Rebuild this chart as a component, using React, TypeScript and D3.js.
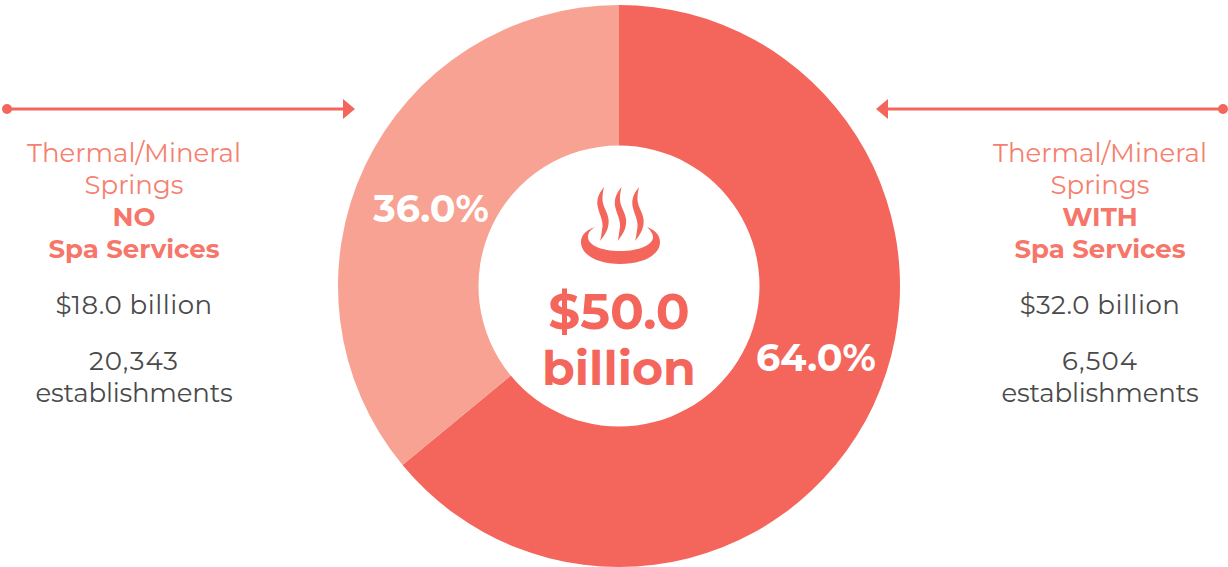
import React from "react";
import * as d3 from "d3";

const segmentLabels = ["With spa", "No spa"];
const segmentValues = [64.0, 36.0];
const segmentPercents = ["64.0%", "36.0%"];
const segmentColors = ["#f4665c", "#f8a294"];
const centerLines = ["$50.0", "billion"];
const leftTitle = ["Thermal/Mineral", "Springs"];
const leftBold = ["NO", "Spa Services"];
const leftRevenue = "$18.0 billion";
const leftEstablishments = ["20,343", "establishments"];
const rightTitle = ["Thermal/Mineral", "Springs"];
const rightBold = ["WITH", "Spa Services"];
const rightRevenue = "$32.0 billion";
const rightEstablishments = ["6,504", "establishments"];

const FONT = "Montserrat, Lato, 'Open Sans', sans-serif";
const CORAL = "#f4665c";
const BOLD = "#f7766a";
const TITLE = "#f6806f";
const DARK = "#4a4a4a";

function TextBlock({ x, title, bold, revenue, est }: any) {
  const t = (s: string, y: number, fill: string, w = 400, ls = 0) => (
    <text key={s + y} x={x} y={y} textAnchor="middle" fill={fill} fontWeight={w} fontSize={26} letterSpacing={ls} fontFamily={FONT}>{s}</text>
  );
  return (
    <g>
      {t(title[0], 162, TITLE)}
      {t(title[1], 194, TITLE)}
      {t(bold[0], 226, BOLD, 700)}
      {t(bold[1], 258, BOLD, 700)}
      {t(revenue, 314, DARK, 400, 0.5)}
      {t(est[0], 370, DARK, 400, 1.1)}
      {t(est[1], 402, DARK, 400, -0.2)}
    </g>
  );
}

const steam = "M604 187 C 598 194 596 201 598 208 C 600 216 604 222 602 230 C 601.5 234 601 238 600 241 C 606 234 609.5 227 608.5 219 C 607.5 212 603 207 602.5 200 C 602.3 196 603 191 604 187 Z";
const bowl = "M595 227 C 586 230 581 235 581 242 C 581 255 598 264 620 264 C 643 264 660 255 660 242 C 660 235 655 230 647 227 C 651 231 653 234 653 237 C 653 245 639 251 620 251 C 601 251 588 245 588 237 C 588 233 590 230 595 227 Z";

export default function App() {
  const cx = 619, cy = 286, R = 281, r = 140.5;
  const pie = d3.pie<number>().sort(null).startAngle(0).endAngle(2 * Math.PI);
  const arc = d3.arc<d3.PieArcDatum<number>>().innerRadius(r).outerRadius(R);
  const arcs = pie(segmentValues);
  const labelArc = d3.arc<d3.PieArcDatum<number>>().innerRadius(211).outerRadius(211);
  const labelShift = [[6, -19], [3, 12]];
  return (
    <svg width={1228} height={567} style={{ position: "fixed", left: 0, top: 0, background: "#fff" }}>
      <g transform={`translate(${cx},${cy})`}>
        {arcs.map((a, i) => <path key={segmentLabels[i]} d={arc(a)!} fill={segmentColors[i]} />)}
        {arcs.map((a, i) => {
          const [lx, ly] = labelArc.centroid(a);
          return <text key={i} x={lx + labelShift[i][0]} y={ly + labelShift[i][1]} dy="0.36em" textAnchor="middle" fill="#fff" fontWeight={700} fontSize={38} fontFamily={FONT}>{segmentPercents[i]}</text>;
        })}
      </g>
      <g fill={CORAL}>
        <path d={steam} />
        <path d={steam} transform="translate(17.5,0)" />
        <path d={steam} transform="translate(35,0)" />
        <path d={bowl} />
      </g>
      {centerLines.map((s, i) => (
        <text key={s} x={619} y={329 + i * 56} textAnchor="middle" fill={CORAL} fontWeight={700} fontSize={i === 0 ? 50 : 47.5} fontFamily={FONT}>{s}</text>
      ))}
      <g stroke={CORAL} strokeWidth={3} fill={CORAL}>
        <line x1={7} y1={109} x2={350} y2={109} />
        <circle cx={7} cy={109} r={5} stroke="none" />
        <path d="M343 99 L355 109 L343 119 Z" stroke="none" />
        <line x1={880} y1={109} x2={1223} y2={109} />
        <circle cx={1223} cy={109} r={5} stroke="none" />
        <path d="M888 99 L876 109 L888 119 Z" stroke="none" />
      </g>
      <TextBlock x={134} title={leftTitle} bold={leftBold} revenue={leftRevenue} est={leftEstablishments} />
      <TextBlock x={1100} title={rightTitle} bold={rightBold} revenue={rightRevenue} est={rightEstablishments} />
    </svg>
  );
}
